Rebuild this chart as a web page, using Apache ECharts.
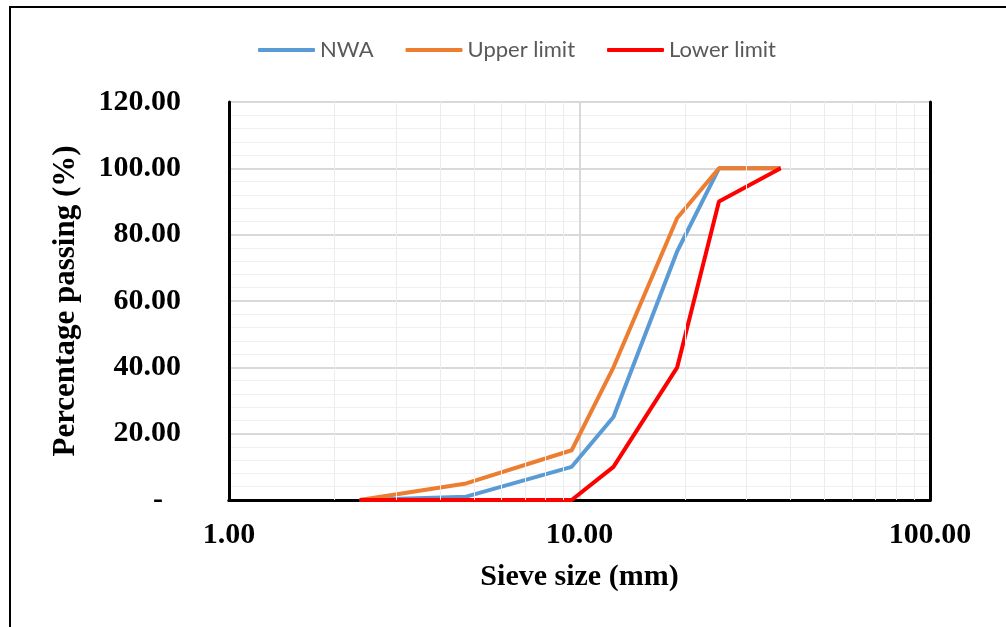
<!DOCTYPE html>
<html>
<head>
<meta charset="utf-8">
<script src="https://cdn.jsdelivr.net/npm/echarts@6/dist/echarts.min.js"></script>
<style>html,body{margin:0;padding:0;background:#fff}#c{width:1006px;height:627px}</style>
</head>
<body>
<div id="c"></div>
<script>
const sieveSizes = [2.36, 4.75, 9.5, 12.5, 19, 25, 37.5];
const nwa = [0, 1, 10, 25, 75, 100, 100];
const upperLimit = [0, 5, 15, 40, 85, 100, 100];
const lowerLimit = [0, 0, 0, 10, 40, 90, 100];
const seriesNames = ['NWA', 'Upper limit', 'Lower limit'];
const minorXGrid = [2, 3, 4, 5, 6, 7, 8, 9, 20, 30, 40, 50, 60, 70, 80, 90];

function pairs(ys) { return sieveSizes.map((x, i) => [x, ys[i]]); }

const chart = echarts.init(document.getElementById('c'));
const serif = '"Liberation Serif", "Times New Roman", serif';
const black = { fontFamily: serif, fontSize: 30, fontWeight: 'bold', color: '#000' };
chart.setOption({
  animation: false,
  backgroundColor: '#fff',
  graphic: [{
    type: 'rect', silent: true, z: 100,
    shape: { x: 10, y: 7, width: 1050, height: 700 },
    style: { fill: 'none', stroke: '#000', lineWidth: 2 }
  }],
  legend: {
    data: seriesNames.map(n => ({ name: n, icon: 'roundRect' })),
    left: 253, top: 34,
    itemWidth: 57, itemHeight: 4, itemGap: 32,
    textStyle: { fontFamily: 'Lato, "Open Sans", sans-serif', fontSize: 22, color: '#595959' }
  },
  grid: {
    left: 229, right: 76, top: 102, bottom: 127,
    show: false, containLabel: false
  },
  xAxis: [{
    type: 'log', logBase: 10, min: 1, max: 100,
    name: 'Sieve size (mm)', nameLocation: 'middle', nameGap: 62,
    nameTextStyle: black,
    axisLine: { show: true, lineStyle: { color: '#000', width: 3 } },
    axisTick: { show: false },
    axisLabel: Object.assign({ margin: 20, formatter: v => Number(v).toFixed(2) }, black),
    splitLine: { show: true, lineStyle: { color: '#d9d9d9', width: 2 } },
    minorTick: { show: false },
    minorSplitLine: { show: false }
  }, {
    type: 'log', logBase: 10, min: 1, max: 100, position: 'top',
    axisLine: { show: true, lineStyle: { color: '#000', width: 3 } },
    axisTick: { show: false }, axisLabel: { show: false }, splitLine: { show: false }
  }],
  yAxis: [{
    type: 'value', min: 0, max: 120, interval: 20,
    name: 'Percentage passing (%)', nameLocation: 'middle', nameGap: 148,
    nameTextStyle: Object.assign({}, black, { fontSize: 31 }),
    axisLine: { show: true, lineStyle: { color: '#000', width: 3 } },
    axisTick: { show: false },
    axisLabel: Object.assign({ margin: 48,
      formatter: v => v === 0 ? '{d|-}' : Number(v).toFixed(2),
      rich: { d: Object.assign({ padding: [0, 18, 0, 0] }, black) } }, black),
    splitLine: { show: true, lineStyle: { color: '#d9d9d9', width: 2 } },
    minorTick: { show: false, splitNumber: 5 },
    minorSplitLine: { show: true, lineStyle: { color: '#efefef', width: 1 } }
  }, {
    type: 'value', min: 0, max: 120, interval: 20, position: 'right',
    axisLine: { show: true, lineStyle: { color: '#000', width: 3 } },
    axisTick: { show: false }, axisLabel: { show: false }, splitLine: { show: false }
  }],
  series: [
    {
      name: 'minor-grid', type: 'line', data: [], z: 0, silent: true,
      markLine: {
        silent: true, symbol: 'none', label: { show: false },
        lineStyle: { color: '#ececec', width: 1, type: 'solid' },
        data: minorXGrid.map(v => ({ xAxis: v }))
      }
    },
    { name: seriesNames[0], type: 'line', data: pairs(nwa), symbol: 'none',
      lineStyle: { color: '#5B9BD5', width: 4 }, itemStyle: { color: '#5B9BD5' } },
    { name: seriesNames[1], type: 'line', data: pairs(upperLimit), symbol: 'none',
      lineStyle: { color: '#ED7D31', width: 4 }, itemStyle: { color: '#ED7D31' } },
    { name: seriesNames[2], type: 'line', data: pairs(lowerLimit), symbol: 'none',
      lineStyle: { color: '#FF0000', width: 4 }, itemStyle: { color: '#FF0000' } }
  ]
});
</script>
</body>
</html>
